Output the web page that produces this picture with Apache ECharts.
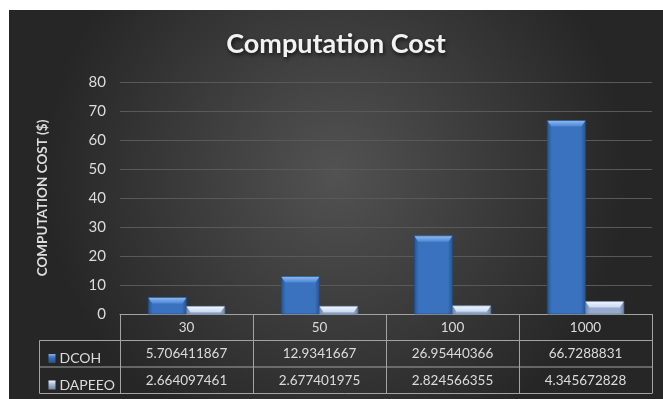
<!DOCTYPE html>
<html>
<head>
<meta charset="utf-8">
<script src="https://cdn.jsdelivr.net/npm/echarts@6/dist/echarts.min.js"></script>
<style>
  html, body { margin: 0; padding: 0; background: #ffffff; }
  #chart { position: absolute; left: 9px; top: 10px; width: 654px; height: 389px; }
</style>
</head>
<body>
<div id="chart"></div>
<script>
// Number of requests per run and the cost of each scheme
const categories = ['30', '50', '100', '1000'];
const dcoh = [5.706411867, 12.9341667, 26.95440366, 66.7288831];
const dapeeo = [2.664097461, 2.677401975, 2.824566355, 4.345672828];
const seriesNames = ['DCOH', 'DAPEEO'];
const yTicks = { min: 0, max: 80, interval: 10 };

const FONT = 'Lato, "Open Sans", sans-serif';
const TEXT = '#dcdcdc';
const RULE = '#a3a3a3';

// Grid / table layout (pixels inside the chart box)
const G = { left: 111, right: 11, top: 72, bottom: 85 };
const W = 654, H = 389;
const ROW = 26.5;
const axisY = H - G.bottom;            // top edge of the table
const legendLeft = 30.5;               // left edge of the series-name column

// Bevelled bar palettes
const palettes = [
  { side: '#25548f', body: '#3a72c0', topA: '#8dbcf2', topB: '#4c86d2', edge: '#1f4a80' },
  { side: '#7387ab', body: '#97aacb', topA: '#f2f7ff', topB: '#c5d8f2', edge: '#66799c' }
];

function bevelBar(sIdx) {
  const p = palettes[sIdx];
  return function (params, api) {
    const c = api.value(0), v = api.value(1);
    const base = api.coord([c, 0]);
    const top = api.coord([c, v]);
    const band = api.size([1, 0])[0];
    const w = band * 0.288;
    const x = base[0] + (sIdx === 0 ? -w : 0);
    const y = top[1];
    const h = base[1] - top[1];
    const b = Math.min(6, h);
    const s = 4;
    return {
      type: 'group',
      children: [
        { type: 'rect', shape: { x: x, y: y, width: w, height: h },
          style: { fill: new echarts.graphic.LinearGradient(0, 0, 1, 0, [
            { offset: 0, color: p.side }, { offset: 0.12, color: p.body },
            { offset: 0.88, color: p.body }, { offset: 1, color: p.side }]) } },
        { type: 'polygon', shape: { points: [[x, y], [x + w, y], [x + w - s, y + b], [x + s, y + b]] },
          style: { fill: new echarts.graphic.LinearGradient(0, 0, 0, 1, [
            { offset: 0, color: p.topA }, { offset: 1, color: p.topB }]) } },
        { type: 'rect', shape: { x: x, y: y, width: w, height: h },
          style: { fill: 'none', stroke: p.edge, lineWidth: 0.6 } }
      ]
    };
  };
}

const seriesData = [dcoh, dapeeo];

function fmt(v) { return String(v); }

const tableLines = [];
[1, 2, 3].forEach(function (r) {
  const yy = axisY + ROW * r;
  tableLines.push({ type: 'line', silent: true,
    shape: { x1: legendLeft, y1: yy, x2: W - G.right, y2: yy },
    style: { stroke: RULE, lineWidth: 1 } });
});
tableLines.push({ type: 'line', silent: true,
  shape: { x1: legendLeft, y1: axisY + ROW, x2: legendLeft, y2: axisY + ROW * 3 },
  style: { stroke: RULE, lineWidth: 1 } });

const legendIcons = [
  new echarts.graphic.LinearGradient(0, 0, 0, 1, [{ offset: 0, color: '#7fb2ef' }, { offset: 0.4, color: '#3a72c0' }, { offset: 1, color: '#254f8c' }]),
  new echarts.graphic.LinearGradient(0, 0, 0, 1, [{ offset: 0, color: '#f2f7ff' }, { offset: 0.4, color: '#a9bddb' }, { offset: 1, color: '#7084a8' }])
];

const chart = echarts.init(document.getElementById('chart'));
chart.setOption({
  backgroundColor: new echarts.graphic.RadialGradient(0.5, 0.42, 0.75, [
    { offset: 0, color: '#525252' }, { offset: 1, color: '#262626' }]),
  animation: false,
  title: {
    text: 'Computation Cost', left: 'center', top: 16,
    textStyle: { fontFamily: FONT, fontSize: 27, fontWeight: 'bold', color: '#f2f2f2',
      textShadowColor: 'rgba(0,0,0,0.75)', textShadowBlur: 4, textShadowOffsetX: 1, textShadowOffsetY: 2 }
  },
  legend: seriesNames.map(function (n, i) {
    return {
      data: [{ name: n, icon: 'rect', itemStyle: { color: legendIcons[i] } }],
      left: legendLeft + 4, top: axisY + ROW * (i + 1) + 6,
      itemWidth: 7, itemHeight: 9, itemGap: 0, selectedMode: false,
      textStyle: { fontFamily: FONT, fontSize: 14, color: TEXT, padding: [0, 0, 0, -1] }
    };
  }),
  grid: { left: G.left, right: G.right, top: G.top, bottom: G.bottom, containLabel: false },
  xAxis: {
    type: 'category', data: categories,
    axisLine: { lineStyle: { color: RULE, width: 1 } },
    axisTick: { show: true, interval: 0, length: ROW * 3, lineStyle: { color: RULE, width: 1 } },
    axisLabel: {
      interval: 0, margin: 0, lineHeight: ROW, color: TEXT, fontFamily: FONT, fontSize: 13.5,
      formatter: function (val, idx) { return [val, fmt(dcoh[idx]), fmt(dapeeo[idx])].join('\n'); }
    }
  },
  yAxis: {
    type: 'value', min: yTicks.min, max: yTicks.max, interval: yTicks.interval,
    name: 'COMPUTATION COST ($)', nameLocation: 'middle', nameGap: 70, nameRotate: 90,
    nameTextStyle: { fontFamily: FONT, fontSize: 13.5, fontWeight: 'bold', color: TEXT },
    axisLine: { show: false }, axisTick: { show: false },
    axisLabel: { color: TEXT, fontFamily: FONT, fontSize: 15, margin: 14 },
    splitLine: { lineStyle: { color: '#595959', width: 1 } }
  },
  graphic: tableLines,
  series: seriesNames.map(function (n, i) {
    return {
      name: n, type: 'custom', renderItem: bevelBar(i),
      encode: { x: 0, y: 1 },
      itemStyle: { color: i === 0 ? '#3a72c0' : '#a9bddb' },
      data: seriesData[i].map(function (v, k) { return [k, v]; }),
      z: 3
    };
  })
});
</script>
</body>
</html>
